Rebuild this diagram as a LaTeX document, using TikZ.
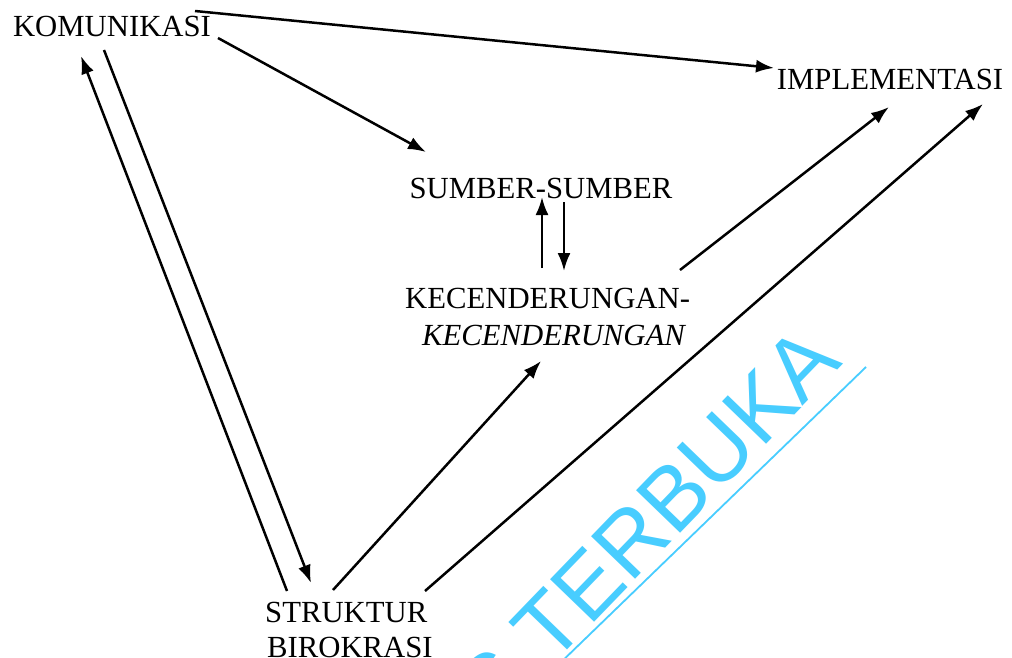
\documentclass[tikz,border=0pt]{standalone}
\usepackage{fontspec}
\setmainfont{Liberation Serif}
\newfontfamily\wmfont{Liberation Sans}
\usetikzlibrary{arrows.meta}
\definecolor{wmblue}{RGB}{72,205,255}
\tikzset{
  lbl/.style={inner sep=0pt, font=\fontsize{30.7}{36}\selectfont},
  arr/.style={line width=2.5pt, -{Latex[length=18pt,width=13pt]}},
}
\begin{document}
\begin{tikzpicture}[x=1pt,y=-1pt]
\useasboundingbox (0,0) rectangle (1012,658);
\fill[white] (0,0) rectangle (1012,658);
% watermark
\begin{scope}
\clip (0,0) rectangle (1012,658);
\node[anchor=base east, inner sep=0pt, rotate=46, text=wmblue,
      font=\wmfont\fontsize{89}{92}\selectfont] (wm) at (844,364) {S TERBUKA};
\coordinate (wmA) at (866,367);
\coordinate (wmB) at (555,668);
\draw[wmblue, line width=1.8pt] (wmA) -- (wmB);
\end{scope}
% labels
\node[lbl, anchor=base] (kom) at (112,37) {KOMUNIKASI};
\node[lbl, anchor=base] (imp) at (890,90) {IMPLEMENTASI};
\node[lbl, anchor=base] (sum) at (541,198) {SUMBER-SUMBER};
\node[lbl, anchor=base west] (kec1) at (405,308) {KECENDERUNGAN-};
\node[lbl, anchor=base west] (kec2) at (422,345) {\itshape KECENDERUNGAN};
\node[lbl, anchor=base west] (str1) at (265,622) {STRUKTUR};
\node[lbl, anchor=base west] (str2) at (267,657) {BIROKRASI};
% connector ends
\coordinate (k1) at (195,11);
\coordinate (i1) at (774,68);
\coordinate (k2) at (218,38);
\coordinate (s1) at (426,152);
\coordinate (t1) at (287,591);
\coordinate (k3) at (81,56);
\coordinate (k4) at (104,50);
\coordinate (t2) at (311,583);
\coordinate (c1) at (542,268);
\coordinate (s2) at (542,197);
\coordinate (s3) at (564,202);
\coordinate (c2) at (564,271);
\coordinate (c3) at (680,270);
\coordinate (i2) at (889,107);
\coordinate (t3) at (333,590);
\coordinate (c4) at (541,361);
\coordinate (t4) at (425,591);
\coordinate (i3) at (983,104);
% connectors
\draw[arr] (k1) -- (i1);
\draw[arr] (k2) -- (s1);
\draw[arr] (t1) -- (k3);
\draw[arr] (k4) -- (t2);
\draw[arr] (c1) -- (s2);
\draw[arr] (s3) -- (c2);
\draw[arr] (c3) -- (i2);
\draw[arr] (t3) -- (c4);
\draw[arr] (t4) -- (i3);
\end{tikzpicture}
\end{document}
